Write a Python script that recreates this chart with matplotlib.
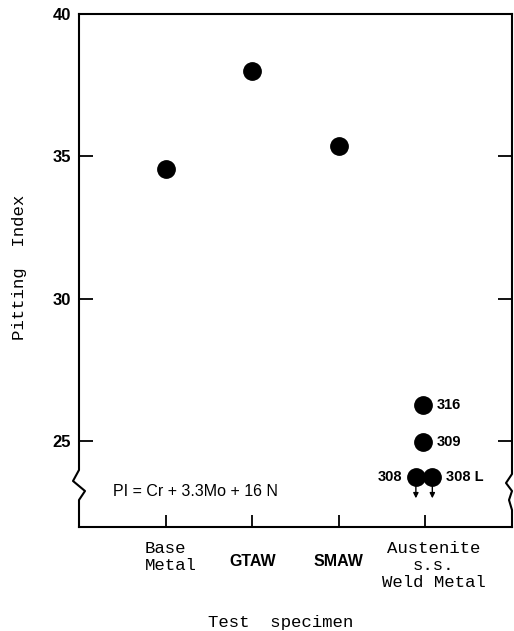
import matplotlib
matplotlib.use("Agg")
import matplotlib.pyplot as plt
import matplotlib.transforms as mtrans

# ---- data ----
categories = ["Base\nMetal", "GTAW", "SMAW", "Austenite\ns.s.\nWeld Metal"]
cat_pos = [1, 2, 3, 4]
main_x = [1, 2, 3]
main_pi = [34.55, 38.0, 35.35]

weld_labels = ["316", "309", "308", "308 L"]
weld_x = [3.97, 3.97, 3.89, 4.08]
weld_pi = [26.25, 24.95, 23.72, 23.72]
weld_arrow = [False, False, True, True]

yticks = [25, 30, 35, 40]
formula = "PI = Cr + 3.3Mo + 16 N"

W, H = 514, 631
fig = plt.figure(figsize=(W / 100, H / 100), dpi=100)
ax = fig.add_axes([79 / W, 104 / H, 433 / W, 513 / H])

ax.set_xlim(0, 5)
ax.set_ylim(21.98, 40)

# points
ax.plot(main_x, main_pi, 'o', color='black', markersize=12.5, zorder=3)
ax.plot(weld_x, weld_pi, 'o', color='black', markersize=12.5, zorder=3)

# weld annotations
for lab, x, y, arr in zip(weld_labels, weld_x, weld_pi, weld_arrow):
    if lab == "308":
        ax.annotate(lab, (x, y), xytext=(-10, 0), textcoords='offset points',
                    ha='right', va='center', fontsize=10.5, fontweight='bold',
                    family='Liberation Sans')
    else:
        ax.annotate(lab, (x, y), xytext=(10, 0), textcoords='offset points',
                    ha='left', va='center', fontsize=10.5, fontweight='bold',
                    family='Liberation Sans')
    if arr:
        ax.annotate('', xy=(x, y), xytext=(0, -15), textcoords='offset points',
                    arrowprops=dict(arrowstyle='<|-,head_length=0.3,head_width=0.15',
                                    color='black', lw=1.0, shrinkA=0, shrinkB=0),
                    zorder=2)

# formula text
ax.text(195 / W, 1 - 492 / H, formula, transform=fig.transFigure,
        ha='center', va='center', fontsize=11.5, family='Liberation Sans')

# spines
for s in ['left', 'right']:
    ax.spines[s].set_visible(False)
for s in ['top', 'bottom']:
    ax.spines[s].set_linewidth(1.5)

def fy(ypx):
    return (527 - ypx) / 513

dx = 1 / 433
lx = [0, 0, -6 * dx, 6 * dx, 0, 0]
ly = [1, fy(470), fy(481), fy(491), fy(500), 0]
ax.plot(lx, ly, color='black', lw=1.5, transform=ax.transAxes, clip_on=False)
rx = [1, 1, 1 - 6 * dx, 1, 1 - 3 * dx, 1, 1]
ry = [1, fy(474), fy(483), fy(491), fy(500), fy(510), 0]
ax.plot(rx, ry, color='black', lw=1.5, transform=ax.transAxes, clip_on=False)

# ticks
ax.set_yticks(yticks)
ax.set_yticklabels([str(t) for t in yticks], fontsize=12, fontweight='bold',
                   family='Liberation Sans')
ax.tick_params(axis='y', direction='in', length=10, width=1.3, left=True,
               right=True, pad=6)
ax.set_xticks(cat_pos)
ax.set_xticklabels([])
ax.tick_params(axis='x', direction='in', length=9, width=1.3)

# category labels
for lab, x in zip(categories, cat_pos):
    if lab in ("GTAW", "SMAW"):
        ax.text(x, fy(562), lab, transform=ax.get_xaxis_transform(),
                ha='center', va='center', fontsize=11.5, fontweight='bold',
                family='Liberation Sans')
    else:
        off = mtrans.ScaledTranslation(0.05 if x == 1 else 0.08, 0, fig.dpi_scale_trans)
        ax.text(x, fy(541), lab, transform=ax.get_xaxis_transform() + off,
                ha='center', va='top', fontsize=12.5, family='Liberation Mono',
                multialignment='left' if x == 1 else 'center', linespacing=1.15)

ax.set_xlabel("Test  specimen", fontsize=12.5, family='Liberation Mono')
ax.xaxis.set_label_coords((281 - 79) / 433, fy(623))
ax.set_ylabel("Pitting  Index", fontsize=12.5, family='Liberation Mono')
ax.yaxis.set_label_coords(-(79 - 20) / 433, fy(267))
ax.xaxis.label.set_va('center')
ax.yaxis.label.set_va('center')

fig.savefig("out.png", dpi=100)
